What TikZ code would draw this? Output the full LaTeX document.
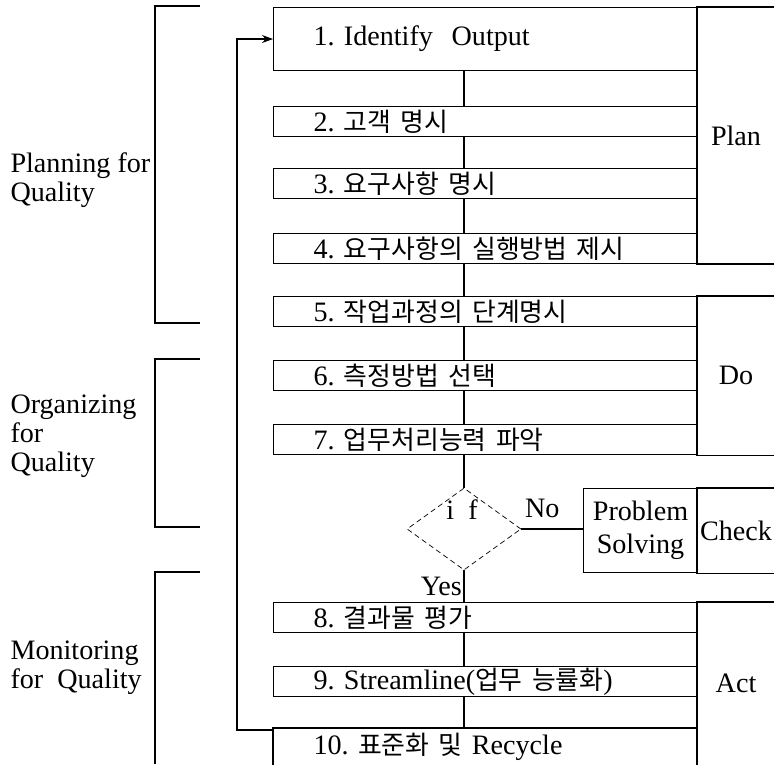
\documentclass[tikz,border=0pt]{standalone}
\usepackage{fontspec}
\setmainfont{Liberation Serif}
\newfontfamily\kr[Scale=0.92]{Noto Sans CJK KR}
\usetikzlibrary{shapes.geometric,arrows.meta}

\tikzset{
  stepbox/.style={draw, anchor=north west, inner xsep=0.8cm, inner ysep=0pt,
    text width=6.88cm, align=left, minimum height=0.6cm},
  phasecol/.style={anchor=north west, minimum width=1.54cm, inner sep=0pt},
  sidetext/.style={anchor=west, align=left, inner sep=0pt, font=\fontsize{16}{16.5}\selectfont},
}

\begin{document}
\begin{tikzpicture}[x=0.02cm, y=-0.02cm, line width=0.6pt, font=\fontsize{16}{19}\selectfont]
    \useasboundingbox (0,0) rectangle (774,764);
    \coordinate (spine) at (464,0);

    % process steps
    \node[stepbox, minimum height=1.26cm] (box1) at (273,7) {1.\ Identify\ \ Output};
    \node[stepbox] (box2) at (273,106) {2.\ {\kr 고객 명시}};
    \node[stepbox] (box3) at (273,168) {3.\ {\kr 요구사항 명시}};
    \node[stepbox] (box4) at (273,233) {4.\ {\kr 요구사항의 실행방법 제시}};
    \node[stepbox] (box5) at (273,296) {5.\ {\kr 작업과정의 단계명시}};
    \node[stepbox] (box6) at (273,360) {6.\ {\kr 측정방법 선택}};
    \node[stepbox] (box7) at (273,424) {7.\ {\kr 업무처리능력 파악}};
    \node[stepbox] (box8) at (273,602) {8.\ {\kr 결과물 평가}};
    \node[stepbox] (box9) at (273,666) {9.\ Streamline({\kr 업무 능률화})};
    \node[stepbox, draw=none, minimum height=0.72cm] (box10) at (273,728) {10.\ {\kr 표준화 및} Recycle};
    \draw (box10.south west) -- (box10.north west) -- (box10.north east);

    % decision
    \node[diamond, draw, densely dashed, line width=0.4pt, minimum width=2.28cm, minimum height=1.64cm, inner sep=0pt] (ifdia) at (464,529) {};
    \node (iftext) at (462,510) {i\ \ f};
    \node[draw, anchor=north west, minimum width=2.28cm, minimum height=1.68cm, inner sep=0pt, align=center,
      font=\fontsize{16}{19}\selectfont] (solve) at (583,488) {Problem\\Solving};

    % PDCA columns
    \node[phasecol, minimum height=5.12cm] (plan) at (697,7) {Plan};
    \draw (plan.north east) -- (plan.north west) -- (plan.south west) -- (plan.south east);
    \node[phasecol, minimum height=3.16cm] (do) at (697,296) {Do};
    \draw (do.north east) -- (do.north west) -- (do.south west) -- (do.south east);
    \node[phasecol, minimum height=1.68cm] (check) at (697,488) {Check};
    \draw (check.north east) -- (check.north west) -- (check.south west) -- (check.south east);
    \node[phasecol, minimum height=3.24cm] (act) at (697,602) {Act};
    \draw (act.north east) -- (act.north west) -- (act.south west);

    % flow
    \draw (box1.south -| spine) -- (box2.north -| spine);
    \draw (box2.south -| spine) -- (box3.north -| spine);
    \draw (box3.south -| spine) -- (box4.north -| spine);
    \draw (box4.south -| spine) -- (box5.north -| spine);
    \draw (box5.south -| spine) -- (box6.north -| spine);
    \draw (box6.south -| spine) -- (box7.north -| spine);
    \draw (box7.south -| spine) -- (ifdia.north);
    \draw (ifdia.east) -- node[above=3pt, xshift=-0.2cm] {No} (ifdia.east -| solve.west);
    \draw (ifdia.south) -- node[left, inner sep=1pt] {Yes} (box8.north -| spine);
    \draw (box8.south -| spine) -- (box9.north -| spine);
    \draw (box9.south -| spine) -- (box10.north -| spine);
    \draw[-{Stealth[length=0.22cm, width=0.16cm]}] ([yshift=-0.04cm]box10.north west) -- ++(-36,0) |- (box1.west);

    % quality brackets
    \draw (200,6) -- (155,6) -- (155,323) -- (200,323);
    \draw (200,359) -- (155,359) -- (155,527) -- (200,527);
    \draw (200,572) -- (155,572) -- (155,764);
    \node[sidetext] (planning) at (10,180) {Planning\ for\\Quality};
    \node[sidetext] (organizing) at (10,436) {Organizing\\for\\Quality};
    \node[sidetext] (monitoring) at (10,668) {Monitoring\\for\ \ Quality};
\end{tikzpicture}
\end{document}
